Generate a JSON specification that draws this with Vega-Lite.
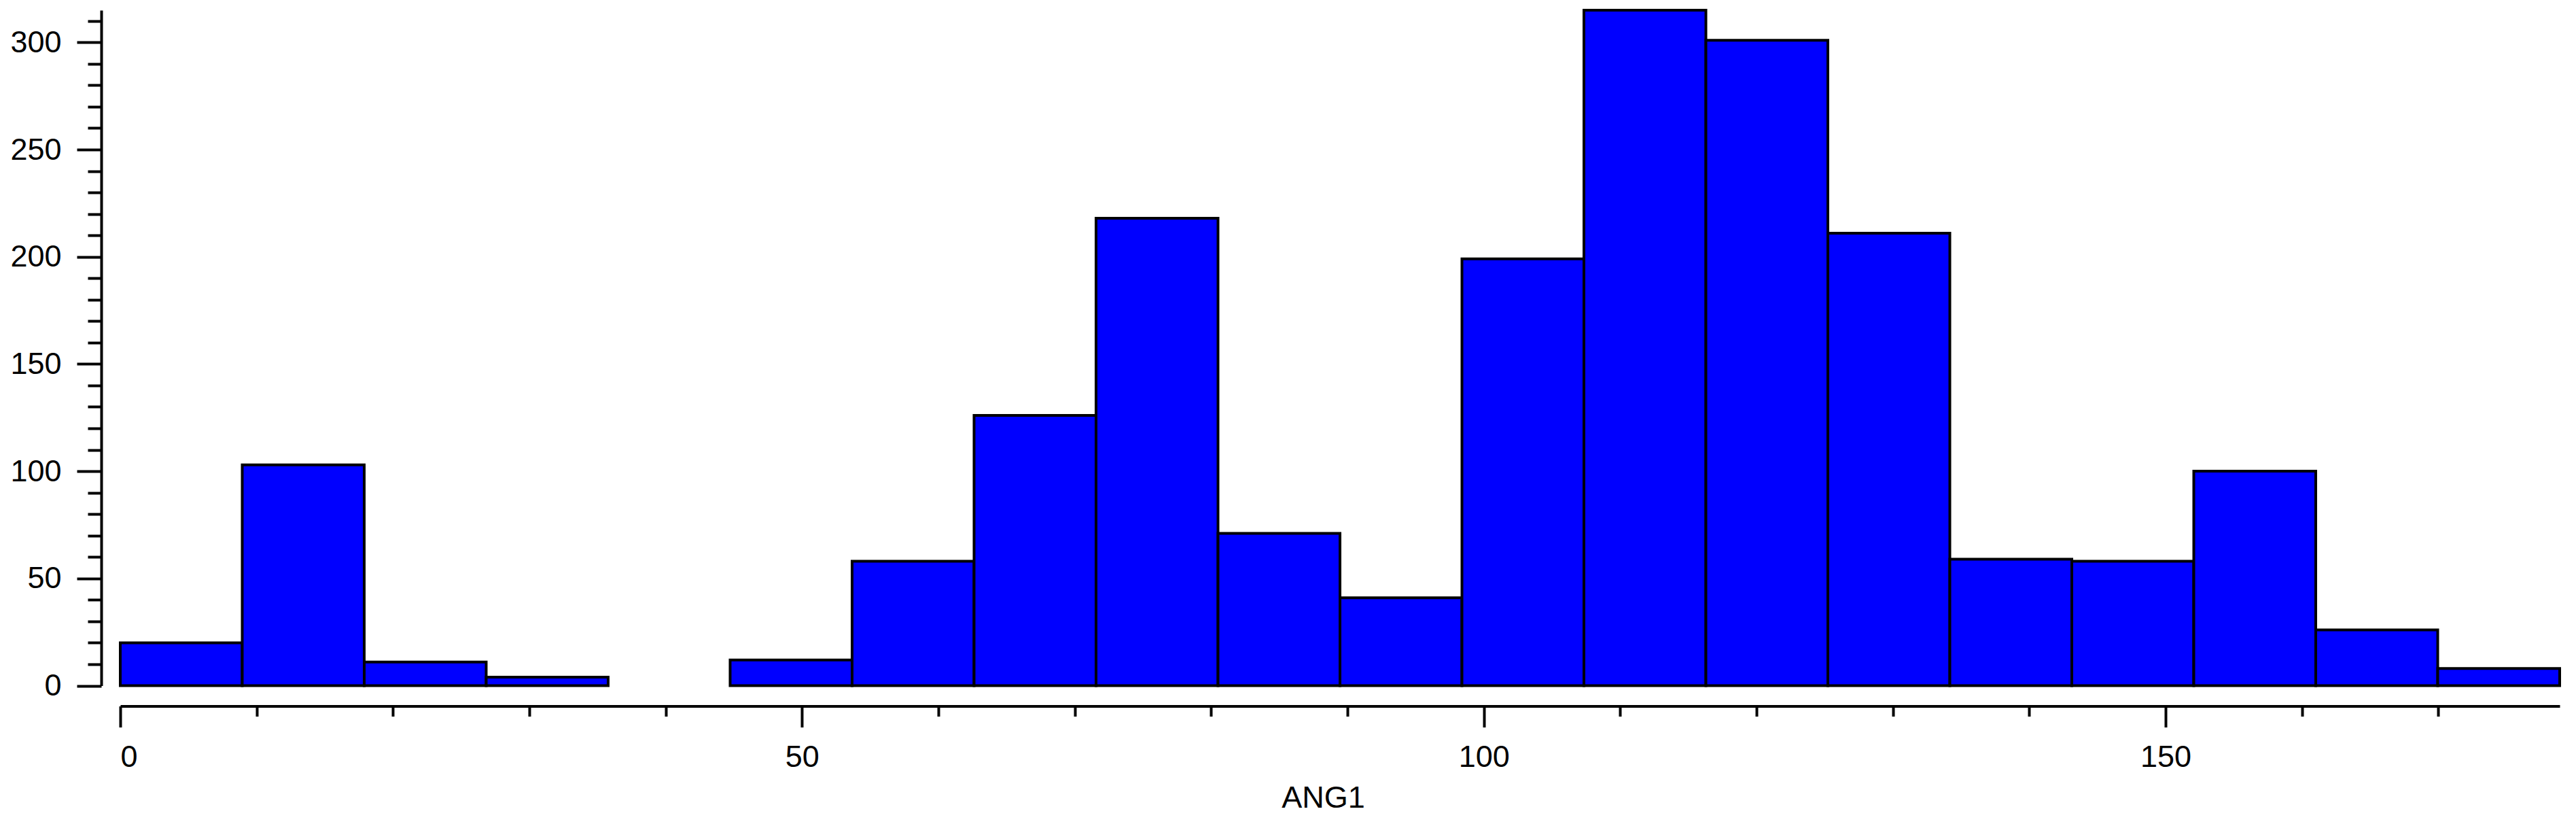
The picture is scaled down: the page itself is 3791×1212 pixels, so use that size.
{
  "$schema": "https://vega.github.io/schema/vega-lite/v6.json",
  "width": 3590,
  "height": 993.5,
  "autosize": {"type": "none"},
  "padding": {"left": 177, "top": 15, "right": 24, "bottom": 203.5},
  "background": "#ffffff",
  "config": {
    "view": {"stroke": null},
    "font": "Liberation Sans",
    "axis": {
      "domainColor": "#000000",
      "domainWidth": 4,
      "tickColor": "#000000",
      "tickWidth": 4,
      "labelColor": "#000000",
      "labelFont": "Liberation Sans",
      "labelFontSize": 45,
      "titleColor": "#000000",
      "titleFont": "Liberation Sans",
      "titleFontSize": 45,
      "titleFontWeight": "normal",
      "grid": false
    }
  },
  "data": {
    "values": [
      {"bin_start": 0, "bin_end": 8.945, "count": 20},
      {"bin_start": 8.945, "bin_end": 17.89, "count": 103},
      {"bin_start": 17.89, "bin_end": 26.835, "count": 11},
      {"bin_start": 26.835, "bin_end": 35.78, "count": 4},
      {"bin_start": 44.725, "bin_end": 53.67, "count": 12},
      {"bin_start": 53.67, "bin_end": 62.615, "count": 58},
      {"bin_start": 62.615, "bin_end": 71.56, "count": 126},
      {"bin_start": 71.56, "bin_end": 80.505, "count": 218},
      {"bin_start": 80.505, "bin_end": 89.45, "count": 71},
      {"bin_start": 89.45, "bin_end": 98.395, "count": 41},
      {"bin_start": 98.395, "bin_end": 107.34, "count": 199},
      {"bin_start": 107.34, "bin_end": 116.285, "count": 315},
      {"bin_start": 116.285, "bin_end": 125.23, "count": 301},
      {"bin_start": 125.23, "bin_end": 134.175, "count": 211},
      {"bin_start": 134.175, "bin_end": 143.12, "count": 59},
      {"bin_start": 143.12, "bin_end": 152.065, "count": 58},
      {"bin_start": 152.065, "bin_end": 161.01, "count": 100},
      {"bin_start": 161.01, "bin_end": 169.955, "count": 26},
      {"bin_start": 169.955, "bin_end": 178.9, "count": 8}
    ]
  },
  "layer": [
    {
      "mark": {"type": "rect", "fill": "#0000ff", "stroke": "#000000", "strokeWidth": 4},
      "encoding": {
        "x": {
          "field": "bin_start",
          "type": "quantitative",
          "scale": {"domain": [0, 178.9], "nice": false, "zero": false},
          "axis": {
            "orient": "bottom",
            "values": [0, 50, 100, 150],
            "tickSize": 31,
            "offset": 30,
            "labelPadding": 22,
            "title": "ANG1",
            "titlePadding": 15,
            "titleX": 1770
          }
        },
        "x2": {"field": "bin_end"},
        "y": {
          "field": "count",
          "type": "quantitative",
          "scale": {"domain": [0, 315], "nice": false},
          "axis": {
            "orient": "left",
            "values": [0, 50, 100, 150, 200, 250, 300],
            "tickSize": 36,
            "offset": 28,
            "labelPadding": 23,
            "title": null
          }
        },
        "y2": {"datum": 0}
      }
    },
    {
      "mark": {"type": "rect", "opacity": 0},
      "encoding": {
        "x": {
          "field": "bin_start",
          "type": "quantitative",
          "axis": {
            "orient": "bottom",
            "values": [10, 20, 30, 40, 60, 70, 80, 90, 110, 120, 130, 140, 160, 170],
            "tickSize": 15,
            "offset": 30,
            "labels": false,
            "domain": false,
            "title": null
          }
        },
        "x2": {"field": "bin_end"},
        "y": {
          "field": "count",
          "type": "quantitative",
          "axis": {
            "orient": "left",
            "values": [10, 20, 30, 40, 60, 70, 80, 90, 110, 120, 130, 140, 160, 170, 180, 190, 210, 220, 230, 240, 260, 270, 280, 290, 310],
            "tickSize": 20,
            "offset": 28,
            "labels": false,
            "domain": false,
            "title": null
          }
        },
        "y2": {"datum": 0}
      }
    }
  ],
  "resolve": {"axis": {"x": "independent", "y": "independent"}}
}
